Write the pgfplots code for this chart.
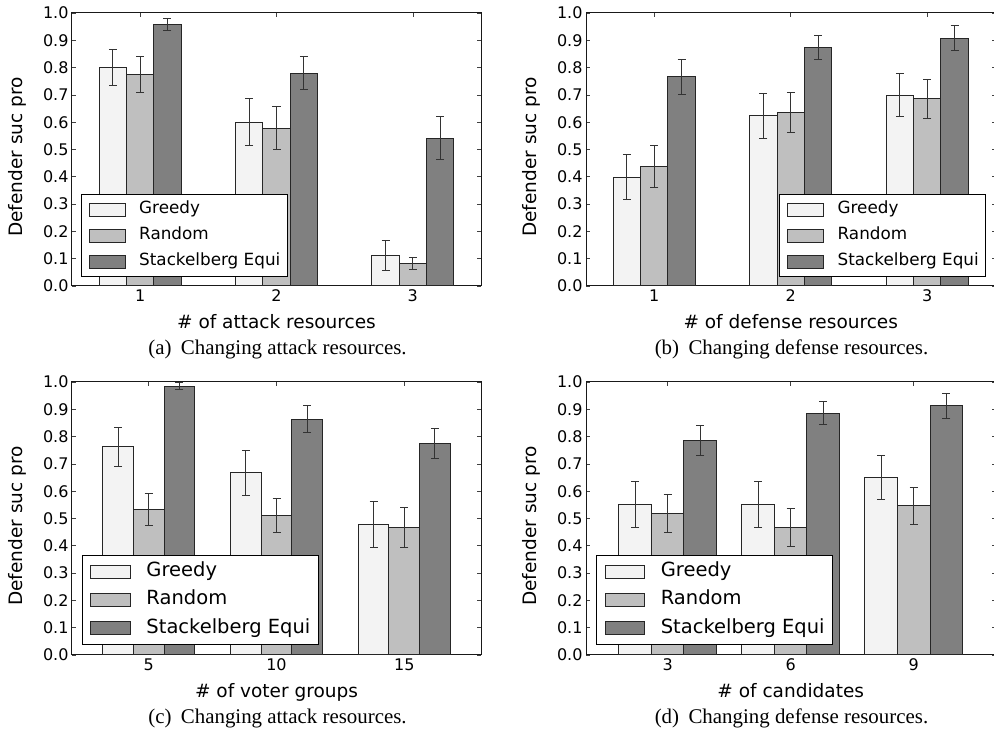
\documentclass[border=0pt]{standalone}
\usepackage{fontspec}
\setmainfont{DejaVu Sans}
\newfontfamily\capfont{Liberation Serif}
\usepackage{pgfplots}
\pgfplotsset{compat=1.18}
\definecolor{cgreedy}{RGB}{243,243,243}
\definecolor{crandom}{RGB}{191,191,191}
\definecolor{cstack}{RGB}{128,128,128}
\pgfplotsset{
  panel/.style={
    scale only axis, height=273pt,
    ybar, ymin=0, ymax=1,
    ytick={0,0.1,...,1.0},
    xtick={0,1,2},
    tick align=inside, xtick pos=both, ytick pos=both,
    major tick length=4pt,
    every tick/.style={black!75, line width=0.6pt},
    axis line style={black!90, line width=1pt},
    /pgf/number format/assume math mode=true,
    yticklabel style={/pgf/number format/fixed,/pgf/number format/fixed zerofill,/pgf/number format/precision=1},
    tick label style={font=\fontsize{16}{19}\selectfont},
    label style={font=\fontsize{18.5}{22}\selectfont},
    ylabel={Defender suc pro},
    ylabel style={at={(axis description cs:-0.134,0.473)}, anchor=center},
    xlabel style={at={(axis description cs:0.5,-0.157)}, anchor=base},
    legend cell align=left,
    error bars/y dir=both, error bars/y explicit,
    error bars/error bar style={black!80, line width=1pt},
    error bars/error mark options={rotate=90, black!80, line width=1pt, mark size=4pt},
  },
  legA/.style={
    legend style={font=\fontsize{16.8}{20}\selectfont, draw=black, line width=1pt, fill=white,
      inner xsep=7pt, inner ysep=6.5pt, row sep=9.2pt,
      nodes={inner sep=0pt, text height=12.8pt, text depth=4pt},
      /tikz/every odd column/.append style={column sep=13.7pt}},
    legend image code/.code={\draw[##1] (0pt,-6.5pt) rectangle (36pt,6.5pt);},
  },
  legC/.style={
    legend style={font=\fontsize{19.5}{23}\selectfont, draw=black, line width=1pt, fill=white,
      inner xsep=8.3pt, inner ysep=6.5pt, row sep=8.8pt,
      nodes={inner sep=0pt, text height=14.8pt, text depth=4.7pt},
      /tikz/every odd column/.append style={column sep=16pt}},
    legend image code/.code={\draw[##1] (0pt,-6.6pt) rectangle (39pt,6.6pt);},
  },
  gre/.style={fill=cgreedy, draw=black!85, line width=1pt},
  ran/.style={fill=crandom, draw=black!85, line width=1pt},
  sta/.style={fill=cstack, draw=black!85, line width=1pt},
}
\begin{document}
\begin{tikzpicture}[x=1pt,y=1pt]
\path[use as bounding box] (0,0) rectangle (994,735);

% (a)
\begin{axis}[panel, legA, at={(72pt,449pt)}, anchor=south west, width=409pt,
  xmin=-0.5, xmax=2.5, bar width=0.2, xticklabels={1,2,3},
  xlabel={\# of attack resources},
  legend style={at={(0,0)}, anchor=south west, xshift=9pt, yshift=9pt}]
\addplot[gre, bar shift=-0.2] coordinates {(0,0.800) +- (0,0.067) (1,0.600) +- (0,0.085) (2,0.110) +- (0,0.055)};
\addplot[ran, bar shift=0] coordinates {(0,0.775) +- (0,0.066) (1,0.578) +- (0,0.078) (2,0.084) +- (0,0.022)};
\addplot[sta, bar shift=0.2] coordinates {(0,0.958) +- (0,0.022) (1,0.780) +- (0,0.060) (2,0.542) +- (0,0.080)};
\legend{Greedy,Random,Stackelberg Equi}
\end{axis}

% (b)
\begin{axis}[panel, legA, at={(586pt,449pt)}, anchor=south west, width=409.5pt,
  xmin=-0.5, xmax=2.5, bar width=0.2, xticklabels={1,2,3},
  xlabel={\# of defense resources},
  legend style={at={(1,0)}, anchor=south east, xshift=-9.2pt, yshift=9pt}]
\addplot[gre, bar shift=-0.2] coordinates {(0,0.398) +- (0,0.083) (1,0.623) +- (0,0.083) (2,0.699) +- (0,0.079)};
\addplot[ran, bar shift=0] coordinates {(0,0.439) +- (0,0.077) (1,0.635) +- (0,0.074) (2,0.685) +- (0,0.072)};
\addplot[sta, bar shift=0.2] coordinates {(0,0.766) +- (0,0.063) (1,0.873) +- (0,0.044) (2,0.908) +- (0,0.045)};
\legend{Greedy,Random,Stackelberg Equi}
\end{axis}

% (c)
\begin{axis}[panel, legC, at={(72pt,80pt)}, anchor=south west, width=409pt,
  xmin=-0.6, xmax=2.6, bar width=0.24, xticklabels={5,10,15},
  xlabel={\# of voter groups},
  legend style={at={(0,0)}, anchor=south west, xshift=9.7pt, yshift=10pt}]
\addplot[gre, bar shift=-0.24] coordinates {(0,0.762) +- (0,0.073) (1,0.667) +- (0,0.081) (2,0.479) +- (0,0.085)};
\addplot[ran, bar shift=0] coordinates {(0,0.533) +- (0,0.059) (1,0.510) +- (0,0.062) (2,0.466) +- (0,0.074)};
\addplot[sta, bar shift=0.24] coordinates {(0,0.985) +- (0,0.014) (1,0.864) +- (0,0.049) (2,0.774) +- (0,0.054)};
\legend{Greedy,Random,Stackelberg Equi}
\end{axis}

% (d)
\begin{axis}[panel, legC, at={(586pt,80pt)}, anchor=south west, width=409.5pt,
  xmin=-0.664, xmax=2.665, bar width=0.265, xticklabels={3,6,9},
  xlabel={\# of candidates},
  legend style={at={(0,0)}, anchor=south west, xshift=10pt, yshift=10pt}]
\addplot[gre, bar shift=-0.265] coordinates {(0,0.551) +- (0,0.085) (1,0.551) +- (0,0.085) (2,0.649) +- (0,0.081)};
\addplot[ran, bar shift=0] coordinates {(0,0.518) +- (0,0.069) (1,0.466) +- (0,0.070) (2,0.546) +- (0,0.069)};
\addplot[sta, bar shift=0.265] coordinates {(0,0.786) +- (0,0.054) (1,0.886) +- (0,0.043) (2,0.913) +- (0,0.045)};
\legend{Greedy,Random,Stackelberg Equi}
\end{axis}

\node[anchor=base, font=\capfont\fontsize{20.9}{24}\selectfont] at (277.5,380) {(a)\hspace{0.45em}Changing attack resources.};
\node[anchor=base, font=\capfont\fontsize{20.9}{24}\selectfont] at (791.5,380) {(b)\hspace{0.45em}Changing defense resources.};
\node[anchor=base, font=\capfont\fontsize{20.9}{24}\selectfont] at (277.5,11) {(c)\hspace{0.45em}Changing attack resources.};
\node[anchor=base, font=\capfont\fontsize{20.9}{24}\selectfont] at (791.5,11) {(d)\hspace{0.45em}Changing defense resources.};
\end{tikzpicture}
\end{document}
